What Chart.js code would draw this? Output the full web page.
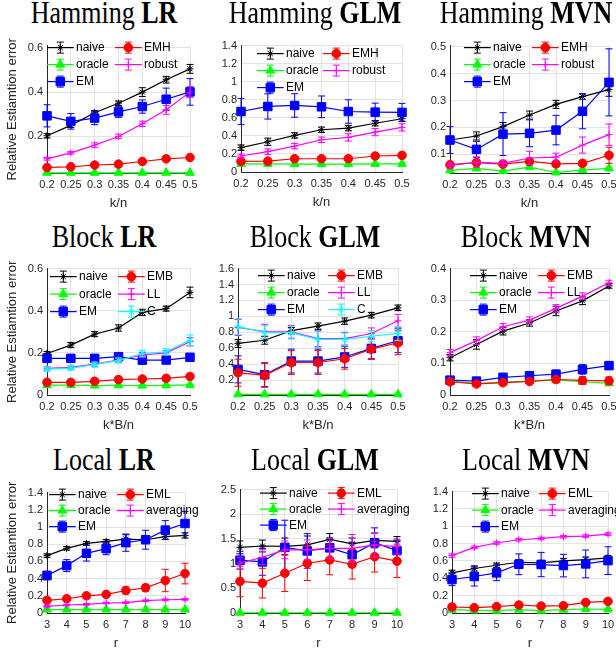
<!DOCTYPE html>
<html>
<head>
<meta charset="utf-8">
<script src="https://cdn.jsdelivr.net/npm/chart.js@4"></script>
<style>
html, body { margin: 0; padding: 0; background: #fff; overflow: hidden; width: 616px; height: 651px; }
#wrap { position: relative; width: 616px; height: 651px; overflow: hidden; }
canvas { position: absolute; }
.ttl { position: absolute; width: 260px; text-align: center; font-family: "Liberation Serif", serif;
       font-size: 26px; line-height: 26px; color: #000; white-space: nowrap;
       transform: scaleY(1.25); transform-origin: 50% 22px; }
</style>
</head>
<body>
<div id="wrap"></div>
<script>
// x categories
const kn = ["0.2", "0.25", "0.3", "0.35", "0.4", "0.45", "0.5"];
const rr = ["3", "4", "5", "6", "7", "8", "9", "10"];

// Hamming LR
const H_LR_naive = [0.203, 0.25, 0.307, 0.35, 0.4, 0.456, 0.505];
const H_LR_naive_e = [0.01, 0.01, 0.01, 0.01, 0.02, 0.015, 0.02];
const H_LR_oracle = [0.036, 0.036, 0.036, 0.036, 0.036, 0.036, 0.036];
const H_LR_oracle_e = [0.002, 0.002, 0.002, 0.002, 0.002, 0.002, 0.002];
const H_LR_EM = [0.293, 0.268, 0.283, 0.311, 0.335, 0.368, 0.401];
const H_LR_EM_e = [0.05, 0.035, 0.03, 0.025, 0.03, 0.05, 0.06];
const H_LR_EMH = [0.06, 0.063, 0.071, 0.075, 0.087, 0.099, 0.105];
const H_LR_EMH_e = [0.004, 0.004, 0.004, 0.004, 0.005, 0.005, 0.005];
const H_LR_robust = [0.099, 0.126, 0.161, 0.2, 0.257, 0.32, 0.4];
const H_LR_robust_e = [0.006, 0.006, 0.01, 0.01, 0.012, 0.02, 0.025];

// Hamming GLM
const H_GLM_naive = [0.27, 0.335, 0.405, 0.468, 0.486, 0.54, 0.59];
const H_GLM_naive_e = [0.03, 0.04, 0.03, 0.03, 0.03, 0.03, 0.03];
const H_GLM_oracle = [0.09, 0.09, 0.088, 0.088, 0.088, 0.09, 0.09];
const H_GLM_oracle_e = [0.01, 0.01, 0.01, 0.01, 0.01, 0.01, 0.01];
const H_GLM_EM = [0.67, 0.726, 0.737, 0.722, 0.67, 0.663, 0.66];
const H_GLM_EM_e = [0.145, 0.14, 0.13, 0.12, 0.13, 0.1, 0.1];
const H_GLM_EMH = [0.118, 0.12, 0.147, 0.147, 0.147, 0.177, 0.184];
const H_GLM_EMH_e = [0.01, 0.01, 0.01, 0.01, 0.01, 0.01, 0.01];
const H_GLM_robust = [0.177, 0.225, 0.287, 0.357, 0.383, 0.442, 0.494];
const H_GLM_robust_e = [0.02, 0.03, 0.03, 0.03, 0.04, 0.04, 0.04];

// Hamming MVN
const H_MVN_naive = [0.153, 0.168, 0.203, 0.246, 0.286, 0.315, 0.341];
const H_MVN_naive_e = [0.01, 0.015, 0.015, 0.015, 0.015, 0.01, 0.025];
const H_MVN_oracle = [0.04, 0.047, 0.037, 0.052, 0.032, 0.041, 0.047];
const H_MVN_oracle_e = [0.005, 0.008, 0.004, 0.006, 0.003, 0.004, 0.006];
const H_MVN_EM = [0.153, 0.118, 0.175, 0.178, 0.19, 0.26, 0.368];
const H_MVN_EM_e = [0.05, 0.03, 0.08, 0.05, 0.055, 0.065, 0.125];
const H_MVN_EMH = [0.061, 0.069, 0.063, 0.073, 0.064, 0.066, 0.096];
const H_MVN_EMH_e = [0.008, 0.01, 0.01, 0.01, 0.008, 0.008, 0.03];
const H_MVN_robust = [0.058, 0.07, 0.066, 0.086, 0.089, 0.134, 0.173];
const H_MVN_robust_e = [0.01, 0.02, 0.012, 0.025, 0.015, 0.03, 0.04];

// Block LR
const B_LR_naive = [0.197, 0.237, 0.289, 0.318, 0.392, 0.41, 0.487];
const B_LR_naive_e = [0.01, 0.012, 0.012, 0.015, 0.015, 0.012, 0.025];
const B_LR_oracle = [0.047, 0.047, 0.045, 0.046, 0.045, 0.046, 0.048];
const B_LR_oracle_e = [0.003, 0.003, 0.003, 0.003, 0.003, 0.003, 0.003];
const B_LR_EM = [0.174, 0.174, 0.174, 0.182, 0.166, 0.166, 0.179];
const B_LR_EM_e = [0.01, 0.01, 0.01, 0.01, 0.02, 0.012, 0.015];
const B_LR_EMB = [0.06, 0.06, 0.065, 0.073, 0.076, 0.079, 0.088];
const B_LR_EMB_e = [0.005, 0.005, 0.005, 0.005, 0.005, 0.005, 0.005];
const B_LR_LL = [0.126, 0.131, 0.147, 0.166, 0.19, 0.2, 0.253];
const B_LR_LL_e = [0.008, 0.008, 0.01, 0.01, 0.012, 0.012, 0.02];
const B_LR_C = [0.123, 0.128, 0.144, 0.164, 0.197, 0.205, 0.26];
const B_LR_C_e = [0.01, 0.01, 0.012, 0.012, 0.015, 0.015, 0.025];

// Block GLM
const B_GLM_naive = [0.66, 0.7, 0.82, 0.877, 0.94, 1.015, 1.107];
const B_GLM_naive_e = [0.05, 0.05, 0.04, 0.04, 0.04, 0.035, 0.035];
const B_GLM_oracle = [0.02, 0.02, 0.02, 0.02, 0.02, 0.02, 0.02];
const B_GLM_oracle_e = [0.005, 0.005, 0.005, 0.005, 0.005, 0.005, 0.005];
const B_GLM_EM = [0.334, 0.267, 0.438, 0.438, 0.49, 0.597, 0.693];
const B_GLM_EM_e = [0.17, 0.15, 0.15, 0.15, 0.13, 0.13, 0.15];
const B_GLM_EMB = [0.292, 0.259, 0.42, 0.42, 0.467, 0.589, 0.668];
const B_GLM_EMB_e = [0.17, 0.15, 0.15, 0.15, 0.13, 0.13, 0.15];
const B_GLM_LL = [0.86, 0.81, 0.806, 0.72, 0.72, 0.785, 0.944];
const B_GLM_LL_e = [0.1, 0.09, 0.08, 0.1, 0.08, 0.07, 0.08];
const B_GLM_C = [0.87, 0.8, 0.795, 0.71, 0.71, 0.75, 0.785];
const B_GLM_C_e = [0.1, 0.08, 0.08, 0.1, 0.08, 0.07, 0.09];

// Block MVN
const B_MVN_naive = [0.118, 0.16, 0.202, 0.228, 0.266, 0.298, 0.345];
const B_MVN_naive_e = [0.01, 0.015, 0.012, 0.01, 0.015, 0.012, 0.007];
const B_MVN_oracle = [0.044, 0.036, 0.04, 0.044, 0.048, 0.042, 0.037];
const B_MVN_oracle_e = [0.004, 0.004, 0.004, 0.004, 0.004, 0.004, 0.004];
const B_MVN_EM = [0.047, 0.044, 0.056, 0.061, 0.066, 0.081, 0.093];
const B_MVN_EM_e = [0.005, 0.005, 0.006, 0.006, 0.012, 0.015, 0.012];
const B_MVN_EMB = [0.042, 0.035, 0.039, 0.043, 0.049, 0.046, 0.045];
const B_MVN_EMB_e = [0.006, 0.006, 0.006, 0.006, 0.01, 0.012, 0.012];
const B_MVN_LL = [0.134, 0.172, 0.216, 0.237, 0.274, 0.313, 0.355];
const B_MVN_LL_e = [0.01, 0.012, 0.01, 0.01, 0.012, 0.01, 0.008];

// Local LR
const L_LR_naive = [0.667, 0.752, 0.81, 0.833, 0.86, 0.852, 0.887, 0.902];
const L_LR_naive_e = [0.02, 0.02, 0.02, 0.02, 0.05, 0.02, 0.03, 0.03];
const L_LR_oracle = [0.04, 0.04, 0.04, 0.04, 0.04, 0.04, 0.04, 0.04];
const L_LR_oracle_e = [0.003, 0.003, 0.003, 0.003, 0.003, 0.003, 0.003, 0.003];
const L_LR_EM = [0.436, 0.551, 0.694, 0.748, 0.818, 0.852, 0.964, 1.041];
const L_LR_EM_e = [0.05, 0.07, 0.09, 0.07, 0.1, 0.11, 0.11, 0.14];
const L_LR_EML = [0.147, 0.166, 0.2, 0.216, 0.262, 0.293, 0.378, 0.459];
const L_LR_EML_e = [0.02, 0.02, 0.02, 0.025, 0.04, 0.04, 0.13, 0.12];
const L_LR_avg = [0.077, 0.093, 0.1, 0.116, 0.12, 0.143, 0.154, 0.158];
const L_LR_avg_e = [0.01, 0.01, 0.01, 0.01, 0.01, 0.01, 0.01, 0.01];

// Local GLM
const L_GLM_naive = [1.33, 1.357, 1.35, 1.38, 1.49, 1.4, 1.47, 1.45];
const L_GLM_naive_e = [0.13, 0.12, 0.17, 0.18, 0.12, 0.12, 0.15, 0.1];
const L_GLM_oracle = [0.005, 0.005, 0.005, 0.005, 0.005, 0.005, 0.005, 0.005];
const L_GLM_oracle_e = [0.003, 0.003, 0.003, 0.003, 0.003, 0.003, 0.003, 0.003];
const L_GLM_EM = [1.07, 1.035, 1.33, 1.257, 1.32, 1.18, 1.425, 1.264];
const L_GLM_EM_e = [0.18, 0.27, 0.55, 0.35, 0.2, 0.25, 0.3, 0.2];
const L_GLM_EML = [0.64, 0.605, 0.806, 1.008, 1.075, 0.988, 1.14, 1.05];
const L_GLM_EML_e = [0.31, 0.3, 0.37, 0.35, 0.3, 0.3, 0.31, 0.33];
const L_GLM_avg = [1.01, 1.13, 1.28, 1.28, 1.31, 1.31, 1.38, 1.345];
const L_GLM_avg_e = [0.12, 0.15, 0.18, 0.2, 0.2, 0.28, 0.25, 0.15];

// Local MVN
const L_MVN_naive = [0.463, 0.513, 0.551, 0.585, 0.578, 0.6, 0.616, 0.635];
const L_MVN_naive_e = [0.03, 0.03, 0.025, 0.03, 0.03, 0.03, 0.03, 0.03];
const L_MVN_oracle = [0.038, 0.031, 0.027, 0.038, 0.027, 0.038, 0.046, 0.042];
const L_MVN_oracle_e = [0.005, 0.005, 0.005, 0.005, 0.005, 0.005, 0.005, 0.005];
const L_MVN_EM = [0.386, 0.421, 0.463, 0.562, 0.559, 0.547, 0.566, 0.604];
const L_MVN_EM_e = [0.07, 0.11, 0.09, 0.12, 0.14, 0.13, 0.16, 0.16];
const L_MVN_EML = [0.069, 0.061, 0.073, 0.092, 0.08, 0.084, 0.122, 0.134];
const L_MVN_EML_e = [0.01, 0.01, 0.01, 0.012, 0.01, 0.01, 0.012, 0.012];
const L_MVN_avg = [0.662, 0.757, 0.807, 0.845, 0.86, 0.88, 0.887, 0.91];
const L_MVN_avg_e = [0.02, 0.015, 0.015, 0.015, 0.015, 0.015, 0.015, 0.015];

// y tick labels
const ticksHLR = [0.2, 0.4, 0.6];
const ticksHGLM = [0, 0.2, 0.4, 0.6, 0.8, 1, 1.2, 1.4];
const ticksHMVN = [0.1, 0.2, 0.3, 0.4, 0.5];
const ticksBLR = [0, 0.2, 0.4, 0.6];
const ticksBGLM = [0.2, 0.4, 0.6, 0.8, 1, 1.2, 1.4, 1.6];
const ticksBMVN = [0, 0.1, 0.2, 0.3, 0.4];
const ticksL14 = [0, 0.2, 0.4, 0.6, 0.8, 1, 1.2, 1.4];
const ticksLGLM = [0, 0.5, 1, 1.5, 2, 2.5];

const axC = "#262626";
const gridC = "#e3e3e3";
const ST = {
  naive:  { c: "#000000", p: "star", r: 3.5 },
  oracle: { c: "#00ff00", p: "triangle", r: 5 },
  EM:     { c: "#0000ff", p: "rect", r: 6 },
  red:    { c: "#ff0000", p: "circle", r: 4.3 },
  mag:    { c: "#ff00ff", p: "cross", r: 3.5 },
  cyan:   { c: "#00ffff", p: "star", r: 3.5 }
};

const panels = [
  { t1: "Hamming ", t2: "LR", cx: 104, by: 24, box: [47, 45, 190, 173], labels: kn, xt: "k/n",
    yt: true, min: 0.035, max: 0.61, ticks: ticksHLR, lg: { x: 0, y: 2, dx: 68, dy: 17 },
    s: [["naive", "naive", H_LR_naive, H_LR_naive_e], ["oracle", "oracle", H_LR_oracle, H_LR_oracle_e],
        ["EM", "EM", H_LR_EM, H_LR_EM_e], ["EMH", "red", H_LR_EMH, H_LR_EMH_e],
        ["robust", "mag", H_LR_robust, H_LR_robust_e]] },
  { t1: "Hamming ", t2: "GLM", cx: 315, by: 24, box: [241, 45, 402, 172], labels: kn, xt: "k/n",
    yt: false, min: 0, max: 1.4, ticks: ticksHGLM, lg: { x: 16, y: 8, dx: 66, dy: 17 },
    s: [["naive", "naive", H_GLM_naive, H_GLM_naive_e], ["oracle", "oracle", H_GLM_oracle, H_GLM_oracle_e],
        ["EM", "EM", H_GLM_EM, H_GLM_EM_e], ["EMH", "red", H_GLM_EMH, H_GLM_EMH_e],
        ["robust", "mag", H_GLM_robust, H_GLM_robust_e]] },
  { t1: "Hamming ", t2: "MVN", cx: 526, by: 24, box: [450, 45, 609, 173], labels: kn, xt: "k/n",
    yt: false, min: 0.03, max: 0.505, ticks: ticksHMVN, lg: { x: 14, y: 2, dx: 68, dy: 17 },
    s: [["naive", "naive", H_MVN_naive, H_MVN_naive_e], ["oracle", "oracle", H_MVN_oracle, H_MVN_oracle_e],
        ["EM", "EM", H_MVN_EM, H_MVN_EM_e], ["EMH", "red", H_MVN_EMH, H_MVN_EMH_e],
        ["robust", "mag", H_MVN_robust, H_MVN_robust_e]] },
  { t1: "Block ", t2: "LR", cx: 104, by: 248, box: [47, 268, 190, 395], labels: kn, xt: "k*B/n",
    yt: true, min: 0, max: 0.6, ticks: ticksBLR, lg: { x: 3, y: 8, dx: 68, dy: 17.5 },
    s: [["naive", "naive", B_LR_naive, B_LR_naive_e], ["oracle", "oracle", B_LR_oracle, B_LR_oracle_e],
        ["EM", "EM", B_LR_EM, B_LR_EM_e], ["EMB", "red", B_LR_EMB, B_LR_EMB_e],
        ["LL", "mag", B_LR_LL, B_LR_LL_e], ["C", "cyan", B_LR_C, B_LR_C_e]] },
  { t1: "Block ", t2: "GLM", cx: 315, by: 248, box: [238, 268, 398, 395], labels: kn, xt: "k*B/n",
    yt: false, min: 0.012, max: 1.6, ticks: ticksBGLM, lg: { x: 20, y: 7, dx: 70, dy: 17 },
    s: [["naive", "naive", B_GLM_naive, B_GLM_naive_e], ["oracle", "oracle", B_GLM_oracle, B_GLM_oracle_e],
        ["EM", "EM", B_GLM_EM, B_GLM_EM_e], ["EMB", "red", B_GLM_EMB, B_GLM_EMB_e],
        ["LL", "mag", B_GLM_LL, B_GLM_LL_e], ["C", "cyan", B_GLM_C, B_GLM_C_e]] },
  { t1: "Block ", t2: "MVN", cx: 526, by: 248, box: [450, 268, 609, 395], labels: kn, xt: "k*B/n",
    yt: false, min: 0, max: 0.4, ticks: ticksBMVN, lg: { x: 20, y: 7, dx: 68, dy: 17 },
    s: [["naive", "naive", B_MVN_naive, B_MVN_naive_e], ["oracle", "oracle", B_MVN_oracle, B_MVN_oracle_e],
        ["EM", "EM", B_MVN_EM, B_MVN_EM_e], ["EMB", "red", B_MVN_EMB, B_MVN_EMB_e],
        ["LL", "mag", B_MVN_LL, B_MVN_LL_e]] },
  { t1: "Local ", t2: "LR", cx: 104, by: 471, box: [47, 492, 185, 613], labels: rr, xt: "r",
    yt: true, min: 0, max: 1.4, ticks: ticksL14, lg: { x: 2, y: 2, dx: 68, dy: 16 },
    s: [["naive", "naive", L_LR_naive, L_LR_naive_e], ["oracle", "oracle", L_LR_oracle, L_LR_oracle_e],
        ["EM", "EM", L_LR_EM, L_LR_EM_e], ["EML", "red", L_LR_EML, L_LR_EML_e],
        ["averaging", "mag", L_LR_avg, L_LR_avg_e]] },
  { t1: "Local ", t2: "GLM", cx: 315, by: 471, box: [240, 489, 397, 613], labels: rr, xt: "r",
    yt: false, min: 0, max: 2.5, ticks: ticksLGLM, lg: { x: 20, y: 3.5, dx: 68, dy: 16 },
    s: [["naive", "naive", L_GLM_naive, L_GLM_naive_e], ["oracle", "oracle", L_GLM_oracle, L_GLM_oracle_e],
        ["EM", "EM", L_GLM_EM, L_GLM_EM_e], ["EML", "red", L_GLM_EML, L_GLM_EML_e],
        ["averaging", "mag", L_GLM_avg, L_GLM_avg_e]] },
  { t1: "Local ", t2: "MVN", cx: 526, by: 471, box: [452, 491, 608, 613], labels: rr, xt: "r",
    yt: false, min: 0, max: 1.4, ticks: ticksL14, lg: { x: 20, y: 2, dx: 67, dy: 16.5 },
    s: [["naive", "naive", L_MVN_naive, L_MVN_naive_e], ["oracle", "oracle", L_MVN_oracle, L_MVN_oracle_e],
        ["EM", "EM", L_MVN_EM, L_MVN_EM_e], ["EML", "red", L_MVN_EML, L_MVN_EML_e],
        ["averaging", "mag", L_MVN_avg, L_MVN_avg_e]] }
];

Chart.defaults.font.family = "'Liberation Sans', Arial, sans-serif";

function drawErr(ctx, x, y1, y2, cap) {
  ctx.beginPath();
  ctx.moveTo(x, y1); ctx.lineTo(x, y2);
  ctx.moveTo(x - cap, y1); ctx.lineTo(x + cap, y1);
  ctx.moveTo(x - cap, y2); ctx.lineTo(x + cap, y2);
  ctx.stroke();
}

// error bars go under the markers of their own series
const errBars = {
  id: "errBars",
  beforeDatasetDraw(chart, args) {
    const ds = chart.data.datasets[args.index];
    if (!ds.errs) return;
    const ys = chart.scales.y, ctx = chart.ctx, a = chart.chartArea;
    ctx.save();
    ctx.beginPath();
    ctx.rect(a.left - 8, a.top, a.right - a.left + 16, a.bottom - a.top);
    ctx.clip();
    ctx.strokeStyle = ds.borderColor;
    ctx.lineWidth = 1;
    args.meta.data.forEach((pt, i) => {
      const v = ds.data[i], e = ds.errs[i];
      drawErr(ctx, pt.x, ys.getPixelForValue(v + e), ys.getPixelForValue(v - e), 3.5);
    });
    ctx.restore();
  }
};

// two-column legend inside the axes, filled column first
const mlegend = {
  id: "mlegend",
  afterDatasetsDraw(chart, args, o) {
    const ctx = chart.ctx, a = chart.chartArea;
    chart.data.datasets.forEach((ds, k) => {
      const x0 = a.left + o.x + Math.floor(k / 3) * o.dx;
      const y = a.top + o.y + (k % 3) * o.dy;
      const xm = x0 + 13.3;
      ctx.save();
      ctx.strokeStyle = ds.borderColor;
      ctx.fillStyle = ds.borderColor;
      ctx.lineWidth = 1.2;
      ctx.beginPath(); ctx.moveTo(x0, y); ctx.lineTo(x0 + 26.7, y); ctx.stroke();
      ctx.lineWidth = 1;
      drawErr(ctx, xm, y - 5.5, y + 5.5, 3.5);
      Chart.helpers.drawPoint(ctx, { pointStyle: ds.pointStyle, radius: ds.pointRadius, borderWidth: 1, rotation: 0 }, xm, y);
      ctx.fillStyle = "#000";
      ctx.font = "12px 'Liberation Sans', Arial, sans-serif";
      ctx.textBaseline = "middle";
      ctx.textAlign = "left";
      ctx.fillText(ds.label, x0 + 29, y + 0.5);
      ctx.restore();
    });
  }
};

const wrap = document.getElementById("wrap");

panels.forEach((p) => {
  const [l, t, r, b] = p.box;
  const padL = p.yt ? l : 40, padT = 10, padR = 20, padB = 40;
  const w = r - l + padL + padR, h = b - t + padT + padB;
  const cv = document.createElement("canvas");
  cv.width = w; cv.height = h;
  cv.style.left = (l - padL) + "px"; cv.style.top = (t - padT) + "px";
  cv.style.width = w + "px"; cv.style.height = h + "px";
  wrap.appendChild(cv);

  const ttl = document.createElement("div");
  ttl.className = "ttl";
  ttl.style.left = (p.cx - 130) + "px";
  ttl.style.top = (p.by - 22) + "px";
  ttl.innerHTML = p.t1 + "<b>" + p.t2 + "</b>";
  wrap.appendChild(ttl);

  const n = p.s.length;
  const datasets = p.s.map(([label, st, data, errs], i) => ({
    label, data, errs,
    borderColor: ST[st].c, backgroundColor: ST[st].c,
    pointBackgroundColor: ST[st].c, pointBorderColor: ST[st].c,
    pointStyle: ST[st].p, pointRadius: ST[st].r, pointBorderWidth: 1,
    borderWidth: 1.2, tension: 0, fill: false, clip: false, order: n - i
  }));

  new Chart(cv, {
    type: "line",
    data: { labels: p.labels, datasets },
    plugins: [errBars, mlegend],
    options: {
      responsive: false,
      animation: false,
      devicePixelRatio: 1,
      layout: { padding: { top: padT, right: padR, left: 0, bottom: 0 } },
      plugins: { legend: { display: false }, tooltip: { enabled: false }, mlegend: p.lg },
      scales: {
        x: {
          offset: false,
          grid: { color: gridC, drawTicks: false },
          border: { color: axC, width: 1 },
          ticks: { color: axC, font: { size: 11 }, padding: 5, maxRotation: 0, autoSkip: false },
          title: { display: true, text: p.xt, color: axC, font: { size: 13 }, padding: { top: 0, bottom: 2 } },
          afterFit(s) { s.height = padB; }
        },
        y: {
          min: p.min, max: p.max,
          grid: { color: gridC, drawTicks: false },
          border: { color: axC, width: 1 },
          ticks: { color: axC, font: { size: 11 }, padding: 4, callback: (v) => String(v) },
          title: { display: p.yt, text: "Relative Estiamtion error", color: axC, font: { size: 13 }, padding: { top: 5, bottom: 0 } },
          afterBuildTicks(s) { s.ticks = p.ticks.map((v) => ({ value: v })); },
          afterFit(s) { s.width = padL; }
        }
      }
    }
  });
});
</script>
</body>
</html>
